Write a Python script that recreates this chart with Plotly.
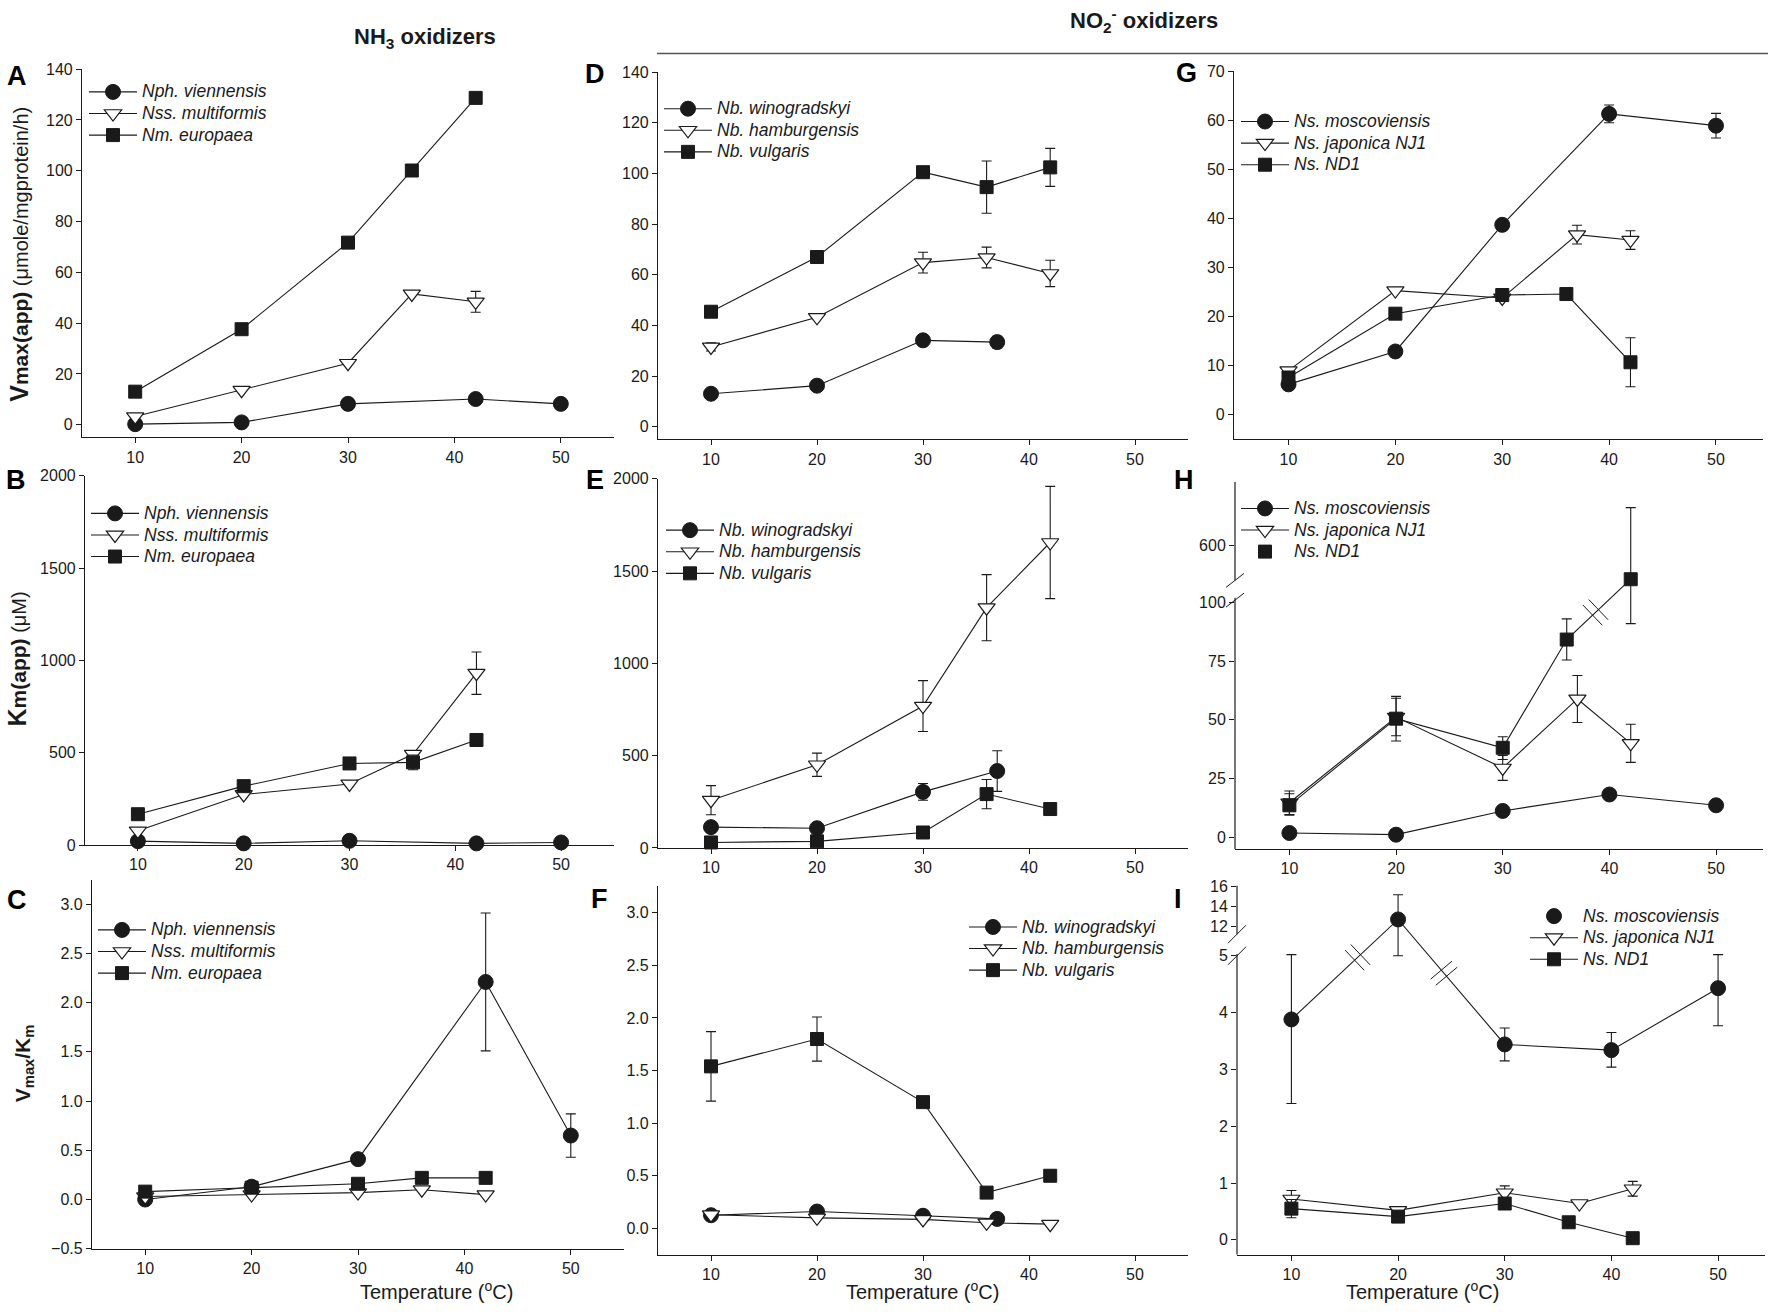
import math
import plotly.graph_objects as go

W, H = 1772, 1314

# ---------------- data (temperature, oC) ----------------
# column 1: NH3 oxidizers
t_vien = [10, 20, 30, 42, 50]
t_mult = [10, 20, 30, 36, 42]
t_euro = [10, 20, 30, 36, 42]

a_vien = [0.2, 0.9, 8.2, 10.1, 8.2]
a_mult = [3.2, 13.6, 24.2, 51.5, 48.4]
a_mult_err = [0, 0, 0, 0, 4.1]
a_euro = [13.0, 37.6, 71.7, 100.1, 128.7]

b_vien = [21, 9, 23, 9, 14]
b_mult = [77, 274, 331, 492, 931]
b_mult_err = [0, 0, 0, 0, 115]
b_euro = [167, 319, 442, 448, 569]
b_euro_err = [0, 0, 0, 40, 0]

c_vien = [0.0, 0.13, 0.41, 2.21, 0.65]
c_vien_err = [0, 0, 0, 0.70, 0.22]
c_mult = [0.03, 0.05, 0.07, 0.10, 0.05]
c_euro = [0.08, 0.12, 0.16, 0.22, 0.22]

# column 2: Nitrobacter
t_wino = [10, 20, 30, 37]
t_hamb = [10, 20, 30, 36, 42]
t_vulg = [10, 20, 30, 36, 42]

d_wino = [13.0, 16.2, 34.1, 33.4]
d_wino_err = [0, 0, 0, 2.3]
d_hamb = [31.5, 43.2, 64.8, 66.8, 60.5]
d_hamb_err = [1.6, 0, 4.1, 4.1, 5.2]
d_vulg = [45.4, 67.0, 100.5, 94.6, 102.4]
d_vulg_err = [0, 0, 0, 10.3, 7.5]

e_wino = [113, 107, 304, 417]
e_wino_err = [0, 0, 45, 110]
e_hamb = [259, 451, 769, 1302, 1655]
e_hamb_err = [79, 63, 138, 179, 304]
e_vulg = [30, 36, 84, 292, 211]
e_vulg_err = [0, 0, 0, 79, 0]

f_wino = [0.125, 0.16, 0.12, 0.09]
f_hamb = [0.13, 0.10, 0.085, 0.053, 0.04]
f_vulg = [1.54, 1.80, 1.20, 0.34, 0.50]
f_vulg_err = [0.33, 0.21, 0, 0, 0]

# column 3: Nitrospira
t_mosc = [10, 20, 30, 40, 50]
t_japo = [10, 20, 30, 37, 42]
t_nd1 = [10, 20, 30, 36, 42]

g_mosc = [6.2, 12.9, 38.7, 61.3, 58.9]
g_mosc_err = [0, 0, 0, 1.8, 2.5]
g_japo = [9.0, 25.3, 23.8, 36.7, 35.6]
g_japo_err = [0, 0, 0, 1.9, 1.9]
g_nd1 = [7.6, 20.6, 24.4, 24.6, 10.7]
g_nd1_err = [0, 0, 0, 0, 5.0]

h_mosc = [1.8, 1.1, 11.2, 18.2, 13.6]
h_japo = [14.7, 51.2, 29.5, 58.9, 40.0]
h_japo_err = [5.0, 8.0, 5.3, 10.0, 8.1]
h_nd1 = [13.6, 50.5, 38.1, 84.2, 455]
h_nd1_hi = [4.9, 9.5, 4.7, 8.8, 305]
h_nd1_lo = [4.2, 9.5, 5.0, 8.7, 364]

i_mosc = [3.88, 12.67, 3.44, 3.34, 4.43]
i_mosc_hi = [1.14, 2.5, 0.29, 0.31, 0.59]
i_mosc_lo = [1.48, 7.67, 0.29, 0.30, 0.66]
i_japo = [0.72, 0.52, 0.83, 0.64, 0.90]
i_japo_err = [0.15, 0.05, 0.12, 0, 0.13]
i_nd1 = [0.55, 0.41, 0.64, 0.31, 0.03]
i_nd1_err = [0.16, 0, 0, 0, 0]

x_ticks = [10, 20, 30, 40, 50]


# broken axes in panels H and I: lower part linear, upper part compressed
def h_map(v):
    return v if v <= 104 else 124.4 + (v - 600) / 10.0


def i_map(v):
    return v if v <= 5.05 else 5.523 + (v - 12) * 0.1742


def mapped(fn, y, hi, lo):
    ym = [fn(v) for v in y]
    up = [fn(v + e) - fn(v) for v, e in zip(y, hi)]
    dn = [fn(v) - fn(v - e) for v, e in zip(y, lo)]
    return ym, up, dn


# ---------------- layout boxes (px: left, right, top, bottom) ----------------
boxes = {
    1: (82, 614, 62, 435),
    2: (85, 614, 474, 848),
    3: (92, 624, 883, 1257),
    4: (658, 1188, 65, 437),
    5: (658, 1188, 477, 851),
    6: (658, 1188, 890, 1263),
    7: (1234, 1763, 64, 437),
    8: (1235, 1763, 480, 852),
    9: (1237, 1765, 889, 1263),
}
xr_left = [5, 55]
xr_right = [4.9, 54.4]
y_ranges = {1: [-5, 140], 2: [0, 2000], 3: [-0.5, 3.25], 4: [-5, 140], 5: [0, 2000],
            6: [-0.25, 3.25], 7: [-5, 70], 8: [-5, 151.4], 9: [-0.26, 6.237]}

ink = "#1a1a1a"
font = "Arial, Liberation Sans, sans-serif"
markers = {
    "circle": dict(symbol="circle", size=15, color=ink, line=dict(color=ink, width=1)),
    "tri": dict(symbol="triangle-down", size=15, color="white", line=dict(color=ink, width=1.2)),
    "square": dict(symbol="square", size=13, color=ink, line=dict(color=ink, width=1)),
}

fig = go.Figure()


def sfx(k):
    return "" if k == 1 else str(k)


def label(name):
    # legend rows are packed tighter than the text size would give by default
    return "<span style='font-size:17.5px'><i>" + name + "</i></span>"


def add(k, x, y, kind, name, hi=None, lo=None, show=True, mode="lines+markers"):
    tr = dict(x=x, y=y, mode=mode, name=label(name), marker=markers[kind],
              line=dict(color=ink, width=1.1), xaxis="x" + sfx(k), yaxis="y" + sfx(k),
              legend="legend" + sfx(k), showlegend=show, cliponaxis=False)
    if hi is not None:
        tr["error_y"] = dict(type="data", symmetric=False, array=hi,
                             arrayminus=lo if lo is not None else hi,
                             color=ink, thickness=1.1, width=5)
    fig.add_trace(go.Scatter(**tr))


def legend_only(k, kind, name):
    fig.add_trace(go.Scatter(x=[None], y=[None], mode="markers", name=label(name),
                             marker=markers[kind], xaxis="x" + sfx(k), yaxis="y" + sfx(k),
                             legend="legend" + sfx(k)))


# A
add(1, t_vien, a_vien, "circle", "Nph. viennensis")
add(1, t_mult, a_mult, "tri", "Nss. multiformis", a_mult_err)
add(1, t_euro, a_euro, "square", "Nm. europaea")
# B
add(2, t_vien, b_vien, "circle", "Nph. viennensis")
add(2, t_mult, b_mult, "tri", "Nss. multiformis", b_mult_err)
add(2, t_euro, b_euro, "square", "Nm. europaea", b_euro_err)
# C
add(3, t_vien, c_vien, "circle", "Nph. viennensis", c_vien_err)
add(3, t_mult, c_mult, "tri", "Nss. multiformis")
add(3, t_euro, c_euro, "square", "Nm. europaea")
# D
add(4, t_wino, d_wino, "circle", "Nb. winogradskyi", d_wino_err)
add(4, t_hamb, d_hamb, "tri", "Nb. hamburgensis", d_hamb_err)
add(4, t_vulg, d_vulg, "square", "Nb. vulgaris", d_vulg_err)
# E
add(5, t_wino, e_wino, "circle", "Nb. winogradskyi", e_wino_err)
add(5, t_hamb, e_hamb, "tri", "Nb. hamburgensis", e_hamb_err)
add(5, t_vulg, e_vulg, "square", "Nb. vulgaris", e_vulg_err)
# F
add(6, t_wino, f_wino, "circle", "Nb. winogradskyi")
add(6, t_hamb, f_hamb, "tri", "Nb. hamburgensis")
add(6, t_vulg, f_vulg, "square", "Nb. vulgaris", f_vulg_err)
# G
add(7, t_mosc, g_mosc, "circle", "Ns. moscoviensis", g_mosc_err)
add(7, t_japo, g_japo, "tri", "Ns. japonica NJ1", g_japo_err)
add(7, t_nd1, g_nd1, "square", "Ns. ND1", g_nd1_err)
# H (broken axis)
add(8, t_mosc, [h_map(v) for v in h_mosc], "circle", "Ns. moscoviensis")
hj, hj_up, hj_dn = mapped(h_map, h_japo, h_japo_err, h_japo_err)
add(8, t_japo, hj, "tri", "Ns. japonica NJ1", hj_up, hj_dn)
hn, hn_up, hn_dn = mapped(h_map, h_nd1, h_nd1_hi, h_nd1_lo)
add(8, t_nd1, hn, "square", "Ns. ND1", hn_up, hn_dn, show=False)
legend_only(8, "square", "Ns. ND1")
# I (broken axis)
im, im_up, im_dn = mapped(i_map, i_mosc, i_mosc_hi, i_mosc_lo)
add(9, t_mosc, im, "circle", "Ns. moscoviensis", im_up, im_dn, show=False)
legend_only(9, "circle", "Ns. moscoviensis")
add(9, t_japo, i_japo, "tri", "Ns. japonica NJ1", i_japo_err)
add(9, t_nd1, i_nd1, "square", "Ns. ND1", i_nd1_err)

# ---------------- axes ----------------
axis_common = dict(showgrid=False, zeroline=False, ticks="outside", ticklen=5, tickwidth=1,
                   tickcolor=ink, linecolor=ink, linewidth=1.2, showline=True,
                   tickfont=dict(family=font, size=16, color=ink))
y_ticks = {
    1: dict(tickvals=list(range(0, 141, 20))),
    2: dict(tickvals=[0, 500, 1000, 1500, 2000]),
    3: dict(tickvals=[-0.5, 0, 0.5, 1.0, 1.5, 2.0, 2.5, 3.0], tickformat=".1f"),
    4: dict(tickvals=list(range(0, 141, 20))),
    5: dict(tickvals=[0, 500, 1000, 1500, 2000]),
    6: dict(tickvals=[0, 0.5, 1.0, 1.5, 2.0, 2.5, 3.0], tickformat=".1f"),
    7: dict(tickvals=list(range(0, 71, 10))),
    8: dict(tickvals=[0, 25, 50, 75, 100, h_map(600)],
            ticktext=["0", "25", "50", "75", "100", "600"], showline=False),
    9: dict(tickvals=[0, 1, 2, 3, 4, 5, i_map(12), i_map(14), i_map(16)],
            ticktext=["0", "1", "2", "3", "4", "5", "12", "14", "16"], showline=False),
}
lay = {}
for k, (l, r, t, b) in boxes.items():
    xd = [l / W, r / W]
    yd = [1 - b / H, 1 - t / H]
    lay["xaxis" + sfx(k)] = dict(axis_common, domain=xd, range=xr_left if k <= 6 else xr_right,
                                 tickvals=x_ticks, anchor="y" + sfx(k))
    lay["yaxis" + sfx(k)] = dict(axis_common, domain=yd, range=y_ranges[k],
                                 anchor="x" + sfx(k), **y_ticks[k])

# legends: (symbol centre x, first row y)
leg_pos = {1: (113, 85), 2: (115, 512), 3: (122, 934), 4: (688, 102), 5: (690, 529),
           6: (993, 931), 7: (1265, 115), 8: (1265, 507), 9: (1554, 920)}
for k, (cx, cy) in leg_pos.items():
    lay["legend" + sfx(k)] = dict(x=(cx - 29) / W, y=1 - (cy - 16) / H, xanchor="left", yanchor="top",
                                  bgcolor="rgba(0,0,0,0)", borderwidth=0, itemwidth=48,
                                  font=dict(family=font, size=14.3, color=ink),
                                  tracegroupgap=0, itemclick=False)

# ---------------- decorations ----------------
shapes = [dict(type="line", xref="paper", yref="paper", x0=657 / W, x1=1768 / W,
               y0=1 - 46 / H, y1=1 - 46 / H, line=dict(color="#555", width=1.5))]

# broken y axis lines + slashes
for k, segs, marks, (sx, sy) in [
    (8, [(-5, 102), (h_map(450), 151.4)], [h_map(450), 101], (9, 7)),
    (9, [(-0.26, 5.03), (5.38, 6.237)], [5.38, 5.0], (9, 9)),
]:
    for y0, y1 in segs:
        shapes.append(dict(type="line", xref="x%d domain" % k, yref="y%d" % k, x0=0, x1=0,
                           y0=y0, y1=y1, line=dict(color=ink, width=1.2)))
    for yv in marks:
        shapes.append(dict(type="line", xref="x%d domain" % k, yref="y%d" % k,
                           xsizemode="pixel", ysizemode="pixel", xanchor=0, yanchor=yv,
                           x0=-sx, x1=sx, y0=-sy, y1=sy, line=dict(color=ink, width=1)))


def line_break(k, p1, p2, t):
    l, r, top, bot = boxes[k]
    xr = xr_left if k <= 6 else xr_right
    yr = y_ranges[k]
    kx = (r - l) / (xr[1] - xr[0])
    ky = (bot - top) / (yr[1] - yr[0])
    dx, dy = (p2[0] - p1[0]) * kx, (p2[1] - p1[1]) * ky
    n = math.hypot(dx, dy)
    ux, uy = dx / n, dy / n
    nx, ny = -uy, ux
    ax = p1[0] + t * (p2[0] - p1[0])
    ay = p1[1] + t * (p2[1] - p1[1])
    for s in (-4, 4):
        cx, cy = s * ux, s * uy
        shapes.append(dict(type="line", xref="x%d" % k, yref="y%d" % k,
                           xsizemode="pixel", ysizemode="pixel", xanchor=ax, yanchor=ay,
                           x0=cx - 14 * nx, x1=cx + 14 * nx, y0=cy - 14 * ny, y1=cy + 14 * ny,
                           line=dict(color=ink, width=1)))


line_break(8, (t_nd1[3], hn[3]), (t_nd1[4], hn[4]), 0.45)
line_break(9, (t_mosc[0], im[0]), (t_mosc[1], im[1]), 0.62)
line_break(9, (t_mosc[1], im[1]), (t_mosc[2], im[2]), 0.43)

ann = []
letters = {"A": (17, 69), "B": (16, 478), "C": (17, 904), "D": (595, 67), "E": (595, 478),
           "F": (599, 903), "G": (1186, 66), "H": (1184, 478), "I": (1178, 903)}
for s, (x, y) in letters.items():
    ann.append(dict(text="<b>" + s + "</b>", x=x / W, y=1 - y / H, xref="paper", yref="paper",
                    showarrow=False, xanchor="center", yanchor="middle",
                    font=dict(family=font, size=27, color="black")))

ann.append(dict(text="<b>NH<sub>3</sub> oxidizers</b>", x=352 / W, y=1 - 30 / H, xref="paper",
                yref="paper", showarrow=False, yanchor="middle",
                font=dict(family=font, size=22, color=ink)))
ann.append(dict(text="<b>NO<sub>2</sub><sup>-</sup> oxidizers</b>", x=1220 / W, y=1 - 13 / H,
                xref="paper", yref="paper", showarrow=False, yanchor="middle",
                font=dict(family=font, size=22, color=ink)))

y_titles = [
    ("<b>V</b><b><span style='font-size:21px'>max(app)</span></b>"
     "<span style='font-size:20px'> (\u03bcmole/mgprotein/h)</span>", 19, 250, 25),
    ("<b>K</b><b><span style='font-size:21px'>m(app)</span></b>"
     "<span style='font-size:20px'> (\u03bcM)</span>", 17, 660, 25),
    ("<b>V<sub>max</sub>/K<sub>m</sub></b>", 24, 1070, 21),
]
for txt, x, y, fs in y_titles:
    ann.append(dict(text=txt, x=x / W, y=1 - y / H, xref="paper", yref="paper", showarrow=False,
                    textangle=-90, xanchor="center", yanchor="middle",
                    font=dict(family=font, size=fs, color=ink)))

for k in (3, 6, 9):
    l, r, t, b = boxes[k]
    ann.append(dict(text="Temperature (<sup>o</sup>C)", x=(l + r) / 2 / W, y=1 - 1299 / H,
                    xref="paper", yref="paper", showarrow=False, yanchor="middle",
                    font=dict(family=font, size=20, color=ink)))

fig.update_layout(width=W, height=H, margin=dict(l=0, r=0, t=0, b=0),
                  paper_bgcolor="white", plot_bgcolor="white",
                  shapes=shapes, annotations=ann, **lay)

fig.write_html("out.html", config={"displayModeBar": False},
               post_script="document.body.style.margin='0px';")
